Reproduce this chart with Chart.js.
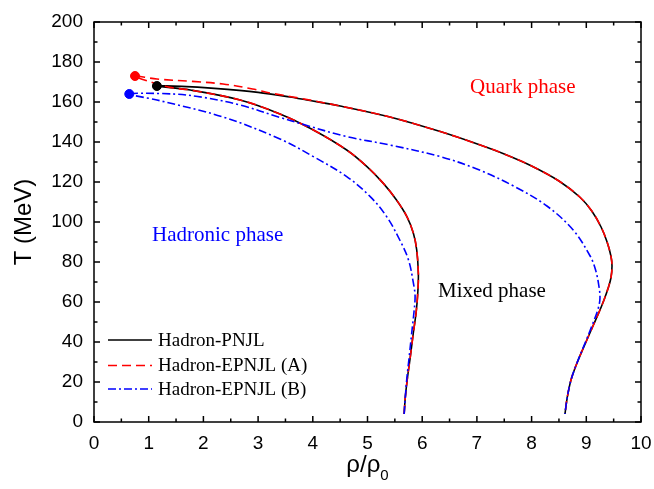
<!DOCTYPE html>
<html>
<head>
<meta charset="utf-8">
<script src="https://cdn.jsdelivr.net/npm/chart.js@4.4.0/dist/chart.umd.min.js"></script>
<style>
  html, body { margin: 0; padding: 0; background: #fff; }
  #wrap { width: 654px; height: 489px; }
</style>
</head>
<body>
<div id="wrap"><canvas id="chart"></canvas></div>
<script>
// Hadron-PNJL boundary: lower branch from bottom up to the end point, then upper branch down
const pnjlRho = [5.67, 5.69, 5.73, 5.78, 5.84, 5.89, 5.92, 5.93, 5.90, 5.84, 5.72, 5.53, 5.29, 4.99, 4.62, 4.01, 3.40, 2.67, 1.76, 1.15,
                 1.6, 2.2, 3.0, 3.58, 3.89, 4.5, 5.41, 6.33, 7.06, 7.5, 8.0, 8.5, 8.88, 9.10, 9.27, 9.38, 9.45, 9.47, 9.45, 9.40, 9.33,
                 9.25, 9.13, 9.01, 8.83, 8.72, 8.65, 8.61]
const pnjlT   = [4, 12, 22, 32, 45, 55, 65, 74, 86, 94.3, 102.7, 111, 119.3, 127.7, 136, 146, 154, 161, 166, 168,
                 167.8, 166.8, 164.8, 162.5, 161, 158, 152.5, 145.2, 138.5, 134, 128, 120.5, 112.5, 105.5, 97.5, 90, 83, 78, 72, 67, 61.5,
                 56, 48.5, 41, 29.5, 21, 12, 4]

// Hadron-EPNJL (A)
const epnjlARho = [5.67, 5.69, 5.73, 5.78, 5.84, 5.89, 5.92, 5.93, 5.90, 5.84, 5.72, 5.53, 5.29, 4.99, 4.62, 4.01, 3.40, 2.67, 1.76, 1.39, 1.0, 0.75,
                   1.15, 1.8, 2.36, 2.9, 3.22, 3.7, 4.5, 5.41, 6.33, 7.06, 7.5, 8.0, 8.5, 8.88, 9.10, 9.27, 9.38, 9.45, 9.47, 9.45, 9.40, 9.33,
                   9.25, 9.13, 9.01, 8.83, 8.72, 8.65, 8.61]
const epnjlAT   = [4, 12, 22, 32, 45, 55, 65, 74, 86, 94.3, 102.7, 111, 119.3, 127.7, 136, 146, 154, 161, 166, 167.3, 170.3, 173,
                   171.5, 170.3, 169, 166.5, 164.5, 162.2, 158, 152.5, 145.2, 138.5, 134, 128, 120.5, 112.5, 105.5, 97.5, 90, 83, 78, 72, 67, 61.5,
                   56, 48.5, 41, 29.5, 21, 12, 4]

// Hadron-EPNJL (B)
const epnjlBRho = [5.67, 5.69, 5.72, 5.76, 5.81, 5.85, 5.87, 5.84, 5.75, 5.59, 5.35, 5.05, 4.62, 4.01, 3.40, 2.36, 1.15, 0.645,
                   1.45, 2.0, 2.67, 3.4, 3.8, 4.62, 5.41, 6.33, 7.0, 7.67, 8.28, 8.76, 9.07, 9.17, 9.23, 9.25, 9.22, 9.13, 9.0, 8.83, 8.72, 8.65, 8.61]
const epnjlBT   = [4, 12, 22, 32, 45, 55, 63, 69.3, 81, 91, 102.7, 112.7, 122.7, 132.7, 141.5, 152.5, 161, 164,
                   164, 162.3, 158.5, 152.3, 149, 142.7, 138.5, 132.7, 126.5, 118, 108, 96, 83, 76, 68, 62, 57, 50, 41, 29.5, 21, 12, 4]

// end points (critical points)
const endRho = [1.15, 0.75, 0.645]
const endT   = [168, 173, 164]

const seriesNames  = ['Hadron-PNJL', 'Hadron-EPNJL (A)', 'Hadron-EPNJL (B)']
const seriesColors = ['#000000', '#ff0000', '#0000ff']
const seriesDash   = [[], [9, 5], [8, 3, 2, 3]]

const xTicks = [0, 1, 2, 3, 4, 5, 6, 7, 8, 9, 10]
const yTicks = [0, 20, 40, 60, 80, 100, 120, 140, 160, 180, 200]

const phaseLabels = [
    { text: 'Quark phase', x: 470, y: 93, color: '#ff0000' },
    { text: 'Hadronic phase', x: 152, y: 241, color: '#0000ff' },
    { text: 'Mixed phase', x: 438, y: 297, color: '#000000' }
]

const toPoints = (xs, ys) => xs.map((x, i) => ({ x: x, y: ys[i] }))

const curves = [[pnjlRho, pnjlT], [epnjlARho, epnjlAT], [epnjlBRho, epnjlBT]]

const datasets = curves.map((c, i) => ({
    label: seriesNames[i],
    data: toPoints(c[0], c[1]),
    showLine: true,
    borderColor: seriesColors[i],
    borderWidth: 1.6,
    borderDash: seriesDash[i],
    pointRadius: 0,
    tension: 0.35,
    fill: false,
    order: 3 - i
}))

endRho.forEach((r, i) => {
    datasets.push({
        label: 'end' + i,
        data: [{ x: r, y: endT[i] }],
        showLine: false,
        pointRadius: 4.5,
        pointBackgroundColor: seriesColors[i],
        pointBorderColor: seriesColors[i],
        order: 0
    })
})

// inward ticks on all four sides, frame, legend and text
const framePlugin = {
    id: 'frame',
    afterDatasetsDraw(chart) {
        const ctx = chart.ctx
        const a = chart.chartArea
        const xs = chart.scales.x
        const ys = chart.scales.y
        ctx.save()
        ctx.strokeStyle = '#000'
        ctx.lineWidth = 1.5
        ctx.strokeRect(a.left, a.top, a.right - a.left, a.bottom - a.top)

        ctx.beginPath()
        for (let v = 0; v <= 10.001; v += 0.5) {
            const len = Math.abs(v - Math.round(v)) < 1e-6 ? 6 : 3.5
            const px = xs.getPixelForValue(v)
            ctx.moveTo(px, a.bottom); ctx.lineTo(px, a.bottom - len)
            ctx.moveTo(px, a.top); ctx.lineTo(px, a.top + len)
        }
        for (let v = 0; v <= 200.001; v += 10) {
            const len = v % 20 === 0 ? 6 : 3.5
            const py = ys.getPixelForValue(v)
            ctx.moveTo(a.left, py); ctx.lineTo(a.left + len, py)
            ctx.moveTo(a.right, py); ctx.lineTo(a.right - len, py)
        }
        ctx.stroke()

        // legend
        ctx.font = '19px "Liberation Serif", "Times New Roman", serif'
        ctx.textBaseline = 'middle'
        const legY = [340, 365.5, 389]
        seriesNames.forEach((n, i) => {
            ctx.beginPath()
            ctx.strokeStyle = seriesColors[i]
            ctx.lineWidth = 1.6
            ctx.setLineDash(seriesDash[i])
            ctx.moveTo(108, legY[i]); ctx.lineTo(152, legY[i])
            ctx.stroke()
            ctx.setLineDash([])
            ctx.fillStyle = '#000'
            ctx.fillText(n, 158, legY[i] + 1)
        })

        // phase labels
        ctx.font = '21px "Liberation Serif", "Times New Roman", serif'
        ctx.textBaseline = 'alphabetic'
        phaseLabels.forEach(l => {
            ctx.fillStyle = l.color
            ctx.fillText(l.text, l.x, l.y)
        })

        // x axis title with subscript
        ctx.fillStyle = '#000'
        ctx.font = '24px "Liberation Sans", Arial, sans-serif'
        const t1 = 'ρ/ρ'
        const w1 = ctx.measureText(t1).width
        ctx.font = '15px "Liberation Sans", Arial, sans-serif'
        const w2 = ctx.measureText('0').width
        const cx = (a.left + a.right) / 2
        const x0 = cx - (w1 + w2) / 2
        ctx.font = '24px "Liberation Sans", Arial, sans-serif'
        ctx.fillText(t1, x0, 472)
        ctx.font = '15px "Liberation Sans", Arial, sans-serif'
        ctx.fillText('0', x0 + w1, 480)
        ctx.restore()
    }
}

new Chart(document.getElementById('chart'), {
    type: 'scatter',
    data: { datasets: datasets },
    options: {
        responsive: true,
        maintainAspectRatio: false,
        animation: false,
        layout: { padding: { left: 0, right: 13, top: 22, bottom: 0 } },
        plugins: {
            legend: { display: false },
            tooltip: { enabled: false }
        },
        scales: {
            x: {
                type: 'linear',
                min: 0,
                max: 10,
                afterFit: s => { s.height = 67; s.paddingLeft = 0; s.paddingRight = 0 },
                afterBuildTicks: s => { s.ticks = xTicks.map(v => ({ value: v })) },
                grid: { display: false },
                border: { display: false },
                ticks: {
                    color: '#000',
                    padding: 2,
                    maxRotation: 0,
                    font: { family: '"Liberation Sans", Arial, sans-serif', size: 19 }
                }
            },
            y: {
                type: 'linear',
                min: 0,
                max: 200,
                afterFit: s => { s.width = 94; s.paddingTop = 0; s.paddingBottom = 0 },
                afterBuildTicks: s => { s.ticks = yTicks.map(v => ({ value: v })) },
                grid: { display: false },
                border: { display: false },
                title: {
                    display: true,
                    text: 'T (MeV)',
                    color: '#000',
                    padding: { top: 10, bottom: 0 },
                    font: { family: '"Liberation Sans", Arial, sans-serif', size: 24 }
                },
                ticks: {
                    color: '#000',
                    padding: 3,
                    font: { family: '"Liberation Sans", Arial, sans-serif', size: 19 }
                }
            }
        }
    },
    plugins: [framePlugin]
})
</script>
</body>
</html>
